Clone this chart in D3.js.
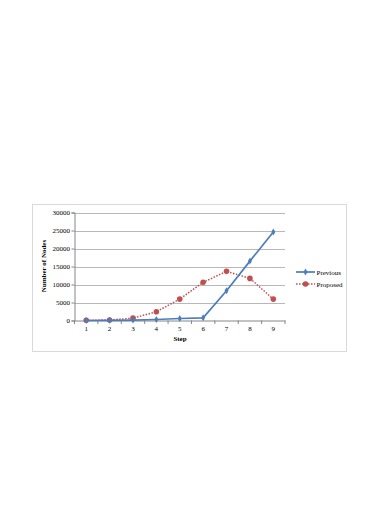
<!DOCTYPE html>
<html><head><meta charset="utf-8">
<script src="https://cdn.jsdelivr.net/npm/d3@7"></script>
<style>body{margin:0;background:#fff}svg{display:block}svg text{font-family:"Liberation Serif","DejaVu Serif",serif !important;}</style>
</head><body>
<script>
const steps = ["1","2","3","4","5","6","7","8","9"];
const previous = [0, 50, 100, 280, 560, 740, 8270, 16500, 24600];
const proposed = [50, 150, 650, 2420, 5950, 10600, 13650, 11700, 5950];
const yTicks = [0, 5000, 10000, 15000, 20000, 25000, 30000];
const seriesNames = ["Previous", "Proposed"];

const W = 372, H = 526;
const svg = d3.select("body").append("svg").attr("width", W).attr("height", H);

svg.append("rect").attr("x", 32.5).attr("y", 204.5).attr("width", 314).attr("height", 147)
  .attr("fill", "#fff").attr("stroke", "#d9d9d9").attr("stroke-width", 1);

const x = d3.scaleBand().domain(steps).range([74.5, 285]);
const y = d3.scaleLinear().domain([0, 30000]).range([320.5, 212.5]);

// gridlines
svg.append("g").selectAll("line").data(yTicks.slice(1)).join("line")
  .attr("x1", 74.5).attr("x2", 285).attr("y1", d => Math.round(y(d)) + 0.5).attr("y2", d => Math.round(y(d)) + 0.5)
  .attr("stroke", "#a6a6a6").attr("stroke-width", 0.8);

// y axis
const yAx = svg.append("g").attr("transform", "translate(74.5,0)")
  .call(d3.axisLeft(y).tickValues(yTicks).tickSize(3).tickFormat(d3.format("d")));
yAx.select(".domain").attr("stroke", "#868686");
yAx.selectAll(".tick line").attr("stroke", "#868686");
yAx.selectAll("text").attr("font-size", 7).attr("fill", "#000").attr("x", -4.5);

// x axis
const xAx = svg.append("g").attr("transform", "translate(0,320.5)")
  .call(d3.axisBottom(x).tickSize(0).tickPadding(6));
xAx.select(".domain").attr("stroke", "#868686");
xAx.selectAll("text").attr("font-size", 7).attr("fill", "#000");
const bounds = steps.map(s => x(s)).concat([x(steps[steps.length-1]) + x.bandwidth()]);
svg.append("g").selectAll("line").data(bounds).join("line")
  .attr("x1", d => d).attr("x2", d => d).attr("y1", 320.5).attr("y2", 324)
  .attr("stroke", "#868686").attr("stroke-width", 1);

const cx = (d, i) => x(steps[i]) + x.bandwidth() / 2;
const line = d3.line().x(cx).y(d => y(d));

// Proposed
svg.append("path").datum(proposed).attr("d", line).attr("fill", "none")
  .attr("stroke", "#c0504d").attr("stroke-width", 1.5).attr("stroke-dasharray", "1.5,1.5");
svg.append("g").selectAll("circle").data(proposed).join("circle")
  .attr("cx", cx).attr("cy", d => y(d)).attr("r", 2.8).attr("fill", "#c0504d");

// Previous
svg.append("path").datum(previous).attr("d", line).attr("fill", "none")
  .attr("stroke", "#4a7ebb").attr("stroke-width", 1.7);
const diamond = d3.symbol().type(d3.symbolDiamond).size(14);
svg.append("g").selectAll("path").data(previous).join("path")
  .attr("d", diamond).attr("transform", (d, i) => `translate(${cx(d, i)},${y(d)})`).attr("fill", "#4a7ebb");

// axis titles
svg.append("text").attr("x", 180).attr("y", 341).attr("text-anchor", "middle")
  .attr("font-size", 7).attr("font-weight", "bold").text("Step");
svg.append("text").attr("transform", "translate(46,266) rotate(-90)").attr("text-anchor", "middle")
  .attr("font-size", 7).attr("font-weight", "bold").text("Number of Nodes");

// legend
const lg = svg.append("g");
const ly = [272, 284];
lg.append("line").attr("x1", 296).attr("x2", 315).attr("y1", ly[0]).attr("y2", ly[0])
  .attr("stroke", "#4a7ebb").attr("stroke-width", 1.7);
lg.append("path").attr("d", diamond).attr("transform", `translate(305.5,${ly[0]})`).attr("fill", "#4a7ebb");
lg.append("line").attr("x1", 296).attr("x2", 315).attr("y1", ly[1]).attr("y2", ly[1])
  .attr("stroke", "#c0504d").attr("stroke-width", 1.5).attr("stroke-dasharray", "1.5,1.5");
lg.append("circle").attr("cx", 305.5).attr("cy", ly[1]).attr("r", 2.8).attr("fill", "#c0504d");
lg.selectAll("text").data(seriesNames).join("text")
  .attr("x", 316.5).attr("y", (d, i) => ly[i] + 2.5)
  .attr("font-size", 7).attr("fill", "#000").text(d => d);
</script>
</body></html>
